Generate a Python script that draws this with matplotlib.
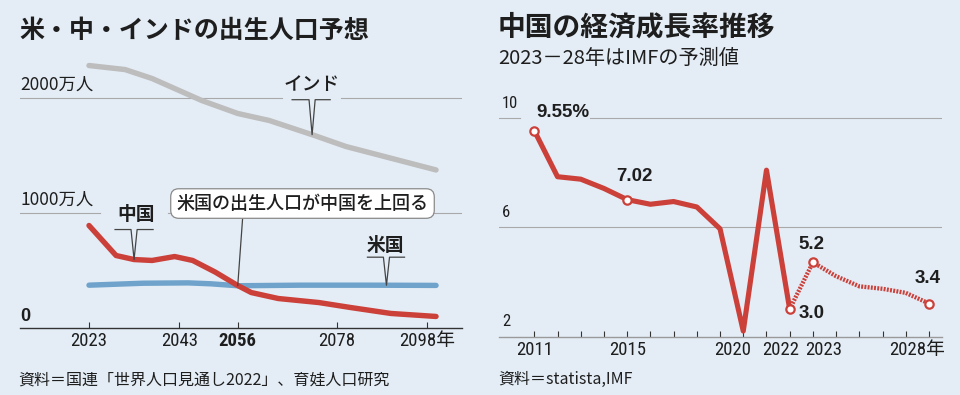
import numpy as np
import matplotlib
matplotlib.use("Agg")
import matplotlib.pyplot as plt
from matplotlib.transforms import ScaledTranslation


# [ DATA ]
#=============================================================================================================================
# births, 10 thousand people (万人)
birth_years_india = [2023, 2031, 2037, 2048, 2056, 2063, 2073, 2080, 2100]
births_india      = [2278, 2243, 2165, 1974, 1861, 1800, 1670, 1574, 1370]

birth_years_china = [2023, 2029, 2033, 2037, 2042, 2046, 2051, 2056, 2059, 2065, 2074, 2081, 2090, 2100]
births_china      = [887, 626, 591, 583, 617, 583, 482, 365, 304, 252, 217, 174, 122, 96]

birth_years_us = [2023, 2035, 2045, 2050, 2056, 2070, 2085, 2100]
births_us      = [368, 385, 388, 380, 363, 368, 368, 366]

birth_ticks       = [2023, 2043, 2056, 2078, 2098]
birth_tick_labels = ["2023", "2043", "2056", "2078", "2098年"]
birth_grid        = [1000, 2000]
birth_grid_labels = ["1000万人", "2000万人"]
cross_year        = 2056

# China GDP growth, %
growth_years    = [2011, 2012, 2013, 2014, 2015, 2016, 2017, 2018, 2019, 2020, 2021, 2022]
growth_actual   = [9.55, 7.86, 7.77, 7.43, 7.02, 6.85, 6.95, 6.75, 5.95, 2.2, 8.1, 3.0]
forecast_years  = [2022, 2023, 2024, 2025, 2026, 2027, 2028]
growth_forecast = [3.0, 4.72, 4.21, 3.84, 3.75, 3.6, 3.21]

growth_marked       = [2011, 2015, 2022, 2023, 2028]
growth_mark_labels  = ["9.55%", "7.02", "3.0", "5.2", "3.4"]
growth_ticks        = list(range(2011, 2029))
growth_tick_labels  = {2011: "2011", 2015: "2015", 2020: "2020", 2022: "2022", 2023: "2023", 2028: "2028年"}
growth_grid         = [6, 10]


# [ STYLE ]
#=============================================================================================================================
BG    = "#E4EDF6"
RED   = "#CC403A"
GRAY  = "#BDBDBD"
BLUE  = "#6FA3CB"
INK   = "#1E1E1E"
GRID  = "#A9A9A9"
JP     = ["Noto Sans CJK JP", "DejaVu Sans"]
NARROW = ["Roboto Condensed", "Noto Sans CJK JP"]
NUM    = ["Liberation Sans", "Noto Sans CJK JP"]

plt.rcParams["font.family"] = JP
plt.rcParams["text.color"] = INK

fig = plt.figure(figsize=(9.6, 3.95), dpi=100, facecolor=BG)


def clean(ax):
    ax.set_facecolor("none")
    for s in ["top", "right", "left"]:
        ax.spines[s].set_visible(False)
    ax.set_yticks([])


def pointer(ax, x, y, left, right, rise, text, dx, text_rise, weight):
    # callout drawn in points around the tip on the series
    tr = fig.dpi_scale_trans + ScaledTranslation(x, y, ax.transData)
    px = np.array([-left, -2.2, 0, 2.2, right]) / 72
    py = np.array([rise, rise, 0, rise, rise]) / 72
    ax.plot(px, py, transform=tr, color="#444444", lw=0.9, zorder=5, clip_on=False)
    ax.text(dx / 72, text_rise / 72, text, transform=tr, ha="center", va="center",
            fontsize=13.5, fontweight=weight, family=JP, zorder=5)


# [ LEFT: BIRTHS ]
#=============================================================================================================================
axL = fig.add_axes([20 / 960, 67.5 / 395, 442 / 960, 276 / 395])
clean(axL)
axL.set_xlim(2007.69, 2105.76)
axL.set_ylim(0, 2400)

axL.axhline(2000, 0, 0.593, color=GRID, lw=0.8, zorder=0)
axL.axhline(2000, 0.726, 1, color=GRID, lw=0.8, zorder=0)
axL.axhline(1000, 0, 0.181, color=GRID, lw=0.8, zorder=0)
axL.axhline(1000, 0.335, 1, color=GRID, lw=0.8, zorder=0)

axL.plot(birth_years_india, births_india, color=GRAY, lw=3.9, solid_capstyle="round", zorder=2)
axL.plot(birth_years_us, births_us, color=BLUE, lw=3.9, solid_capstyle="round", zorder=3)
axL.plot(birth_years_china, births_china, color=RED, lw=3.9, solid_capstyle="round", zorder=4)

for v, lab in zip(birth_grid, birth_grid_labels):
    axL.annotate(lab, (0, v), xycoords=axL.get_yaxis_transform(), xytext=(0, 9.5),
                 textcoords="offset points", ha="left", va="center", fontsize=12.5, family=JP)
axL.annotate("0", (0, 0), xycoords=axL.get_yaxis_transform(), xytext=(0, 8),
             textcoords="offset points", ha="left", va="center", fontsize=13,
             fontweight="bold", family=NUM)

axL.spines["bottom"].set_color("#333333")
axL.spines["bottom"].set_linewidth(1.0)
axL.set_xticks(birth_ticks, labels=birth_tick_labels)
axL.tick_params(axis="x", direction="in", length=4.5, width=0.8, color="#333333", pad=3,
                labelsize=13.5, labelcolor=INK)
for t in axL.get_xticklabels():
    t.set_family(NARROW)
    if t.get_text() == str(cross_year):
        t.set_fontweight("bold")

pointer(axL, 2033, np.interp(2033, birth_years_china, births_china), 13.7, 13.7, 21.6,
        "中国", 1.4, 32.4, "bold")
pointer(axL, 2072.5, np.interp(2072.5, birth_years_india, births_india), 14.4, 13.0, 25.2,
        "インド", 0, 36, 500)
pointer(axL, 2089, np.interp(2089, birth_years_us, births_us), 13.7, 13.0, 20.2,
        "米国", -0.7, 28.8, "bold")

axL.annotate("米国の出生人口が中国を上回る",
             xy=(cross_year, np.interp(cross_year, birth_years_us, births_us)),
             xytext=(2070.37, 1078), ha="center", va="center", fontsize=13, fontweight=500, family=JP,
             bbox=dict(boxstyle="round,pad=0.32,rounding_size=0.45", fc="white", ec="#8A8A8A", lw=0.9),
             arrowprops=dict(arrowstyle="-", color="#444444", lw=0.9, shrinkA=0, shrinkB=0,
                             relpos=(0.264, 0)),
             zorder=6)


# [ RIGHT: GDP GROWTH ]
#=============================================================================================================================
axR = fig.add_axes([499 / 960, 58.5 / 395, 443 / 960, 245.4 / 395])
clean(axR)
axR.set_xlim(2009.48, 2028.56)
axR.set_ylim(2, 11)

axR.axhline(10, 0, 0.047, color=GRID, lw=0.8, zorder=0)
axR.axhline(10, 0.205, 1, color=GRID, lw=0.8, zorder=0)
axR.axhline(6, color=GRID, lw=0.8, zorder=0)

for v in [2] + growth_grid:
    axR.annotate(str(v), (0, v), xycoords=axR.get_yaxis_transform(), xytext=(2.2, 10.5),
                 textcoords="offset points", ha="left", va="center", fontsize=12, family=NARROW)

axR.plot(growth_years, growth_actual, color=RED, lw=3.7, zorder=3, clip_on=False)
axR.plot(forecast_years, growth_forecast, color=RED, lw=3.1, dashes=(0.45, 0.3), zorder=3,
         clip_on=False)

series = dict(zip(growth_years, growth_actual))
series.update(dict(zip(forecast_years, growth_forecast)))
mark_vals = [series[y] for y in growth_marked]
axR.plot(growth_marked, mark_vals, "o", mfc="white", mec=RED, ms=6, mew=1.6, zorder=4, clip_on=False)

label_offsets = [(20.5, 13), (5, 16.5), (16, -3), (-0.7, 13), (-0.7, 18)]
for yr, v, lab, off in zip(growth_marked, mark_vals, growth_mark_labels, label_offsets):
    axR.annotate(lab, (yr, v), xytext=off, textcoords="offset points", ha="center", va="center",
                 fontsize=13.5, fontweight="bold", family=NUM, zorder=5)

axR.spines["bottom"].set_color("#9A9A9A")
axR.spines["bottom"].set_linewidth(1.0)
axR.set_xticks(growth_ticks, labels=[growth_tick_labels.get(y, "") for y in growth_ticks])
axR.tick_params(axis="x", direction="in", length=4.5, width=0.8, color="#333333", pad=3,
                labelsize=13.5, labelcolor=INK)
shift = {"2020": -8, "2022": -6.5, "2023": 7.4, "2028年": -8.6}
for t in axR.get_xticklabels():
    t.set_family(NARROW)
    if t.get_text() in shift:
        t.set_transform(t.get_transform() + ScaledTranslation(shift[t.get_text()] / 72, 0, fig.dpi_scale_trans))


# [ TITLES & SOURCES ]
#=============================================================================================================================
fig.text(19 / 960, 1 - 31 / 395, "米・中・インドの出生人口予想", fontsize=18, fontweight="bold",
         va="center", family=JP)
fig.text(498 / 960, 1 - 27 / 395, "中国の経済成長率推移", fontsize=20, fontweight="bold",
         va="center", family=JP)
fig.text(498 / 960, 1 - 58 / 395, "2023－28年はIMFの予測値", fontsize=14.5, va="center", family=JP)
fig.text(18 / 960, 1 - 380 / 395, "資料＝国連「世界人口見通し2022」、育娃人口研究", fontsize=11.5,
         va="center", family=JP)
fig.text(498 / 960, 1 - 379 / 395, "資料＝statista,IMF", fontsize=11.5, va="center", family=JP)

fig.savefig("out.png", dpi=100, facecolor=BG)
